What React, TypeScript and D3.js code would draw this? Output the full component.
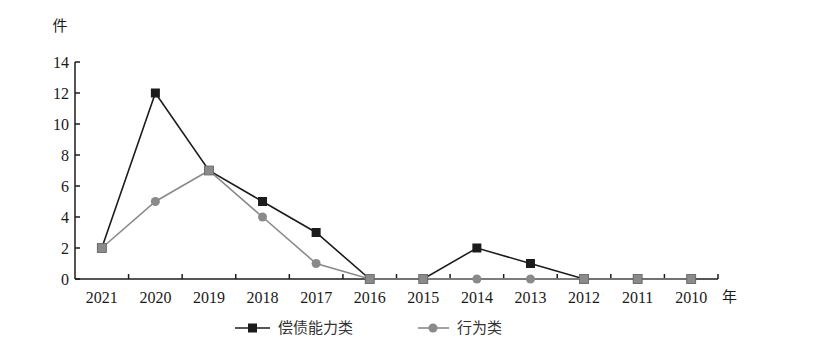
import React from "react";
import * as d3 from "d3";

const years = ["2021", "2020", "2019", "2018", "2017", "2016", "2015", "2014", "2013", "2012", "2011", "2010"];
const solvency = [2, 12, 7, 5, 3, 0, 0, 2, 1, 0, 0, 0];
const behavior = [2, 5, 7, 4, 1, 0, 0, 0, 0, 0, 0, 0];
const yTicks = [0, 2, 4, 6, 8, 10, 12, 14];
const seriesNames = ["偿债能力类", "行为类"];

const W = 831, H = 355;
const left = 75, right = 718, top = 62, bottom = 279;
const dark = "#1c1c1c", gray = "#8a8a8a";
const serif = "'Liberation Serif', 'Times New Roman', Times, 'DejaVu Serif', serif";
const cjk = "'Noto Sans CJK SC', sans-serif";

export default function App() {
  const x = d3.scaleBand<string>().domain(years).range([left, right]);
  const y = d3.scaleLinear().domain([0, 14]).range([bottom, top]);
  const cx = (yr: string) => (x(yr) as number) + x.bandwidth() / 2;
  const line = d3.line<number>().x((_, i) => cx(years[i])).y((d) => y(d));
  const boundaries = years.map((yr) => x(yr) as number).concat([right]);
  const num: React.CSSProperties = { fontFamily: serif, fontSize: "16px" };
  const han: React.CSSProperties = { fontFamily: cjk, fontSize: "15px" };

  return (
    <svg width={W} height={H} style={{ position: "absolute", left: 0, top: 0, background: "#fff" }}>
      <line x1={left} x2={left} y1={top} y2={bottom} stroke={dark} strokeWidth={1.5} />
      {yTicks.map((t) => (
        <g key={t}>
          <line x1={left} x2={left + 5} y1={y(t)} y2={y(t)} stroke={dark} strokeWidth={1.5} />
          <text x={left - 6} y={y(t) + 5.5} textAnchor="end" style={num} fill="#1a1a1a">{t}</text>
        </g>
      ))}
      <text x={60} y={31} textAnchor="middle" style={han} fill="#1a1a1a">件</text>
      <line x1={left} x2={right} y1={bottom} y2={bottom} stroke={dark} strokeWidth={1.5} />
      {boundaries.slice(1).map((b, i) => (
        <line key={i} x1={b} x2={b} y1={bottom} y2={bottom - 5} stroke={dark} strokeWidth={1.5} />
      ))}
      {years.map((yr) => (
        <text key={yr} x={cx(yr)} y={303} textAnchor="middle" style={num} fill="#1a1a1a">{yr}</text>
      ))}
      <text x={722} y={302} textAnchor="start" style={han} fill="#1a1a1a">年</text>
      <path d={line(solvency) || ""} fill="none" stroke={dark} strokeWidth={1.6} />
      <path d={line(behavior) || ""} fill="none" stroke={gray} strokeWidth={1.6} />
      {solvency.map((v, i) => (
        <rect key={"s" + i} x={cx(years[i]) - 4.5} y={y(v) - 4.5} width={9} height={9} fill={dark} />
      ))}
      {behavior.map((v, i) =>
        v === solvency[i] ? (
          <rect key={"b" + i} x={cx(years[i]) - 4.5} y={y(v) - 4.5} width={9} height={9} fill={gray} stroke="#6a6a6a" strokeWidth={0.8} />
        ) : (
          <circle key={"b" + i} cx={cx(years[i])} cy={y(v)} r={4.5} fill={gray} />
        )
      )}
      <line x1={235} x2={270} y1={328} y2={328} stroke={dark} strokeWidth={1.6} />
      <rect x={248} y={323.5} width={9} height={9} fill={dark} />
      <text x={278} y={333} style={han} fill="#333">{seriesNames[0]}</text>
      <line x1={418} x2={449} y1={328} y2={328} stroke={gray} strokeWidth={1.6} />
      <circle cx={433} cy={328} r={4.5} fill={gray} />
      <text x={457} y={333} style={han} fill="#333">{seriesNames[1]}</text>
    </svg>
  );
}
